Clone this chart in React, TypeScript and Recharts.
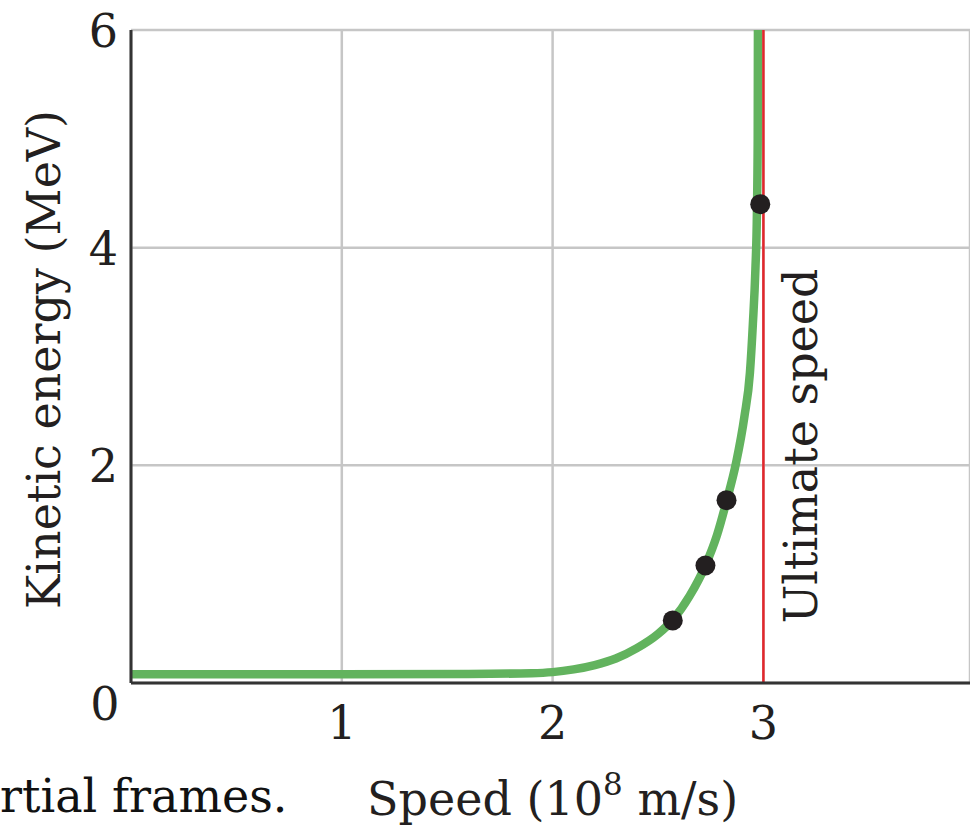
import React from 'react';
import {
  CartesianGrid,
  ComposedChart,
  Label,
  Line,
  ReferenceLine,
  Scatter,
  XAxis,
  YAxis,
} from 'recharts';

// speed in 10^8 m/s, kinetic energy in MeV
const curveSpeed = [
  0, 1.0, 1.6, 1.9, 2.0, 2.1, 2.2, 2.3, 2.4, 2.5, 2.57, 2.65, 2.725,
  2.78, 2.825, 2.87, 2.91, 2.936, 2.95, 2.962, 2.969, 2.973, 2.974,
];
const curveEnergy = [
  0.08, 0.08, 0.083, 0.09, 0.1, 0.125, 0.165, 0.225, 0.32, 0.45, 0.58, 0.8,
  1.08, 1.36, 1.67, 2.02, 2.45, 2.85, 3.3, 3.8, 4.3, 5.0, 6.0,
];

const measuredSpeed = [2.57, 2.725, 2.825, 2.985];
const measuredEnergy = [0.575, 1.08, 1.68, 4.4];

const xTicks = [0, 1, 2, 3];
const yTicks = [0, 2, 4, 6];
const ultimateSpeed = 3;

const curve = curveSpeed.map((v, i) => ({ v, ke: curveEnergy[i] }));
const measured = measuredSpeed.map((v, i) => ({ v, ke: measuredEnergy[i] }));

const FONT = '"DejaVu Serif", serif';
const INK = '#231f20';
const FS = 46;

function XTick(props: any) {
  const { x, payload } = props;
  if (payload.value === 0) return <g />;
  return (
    <text x={x} y={739} textAnchor="middle" fontFamily={FONT} fontSize={FS} fill={INK}>
      {payload.value}
    </text>
  );
}

function YTick(props: any) {
  const { y, payload } = props;
  if (payload.value === 0) {
    return (
      <text x={105} y={720} textAnchor="middle" fontFamily={FONT} fontSize={FS} fill={INK}>
        0
      </text>
    );
  }
  return (
    <text x={118} y={y + 17} textAnchor="end" fontFamily={FONT} fontSize={FS} fill={INK}>
      {payload.value}
    </text>
  );
}

function Dot(props: any) {
  return <circle cx={props.cx} cy={props.cy} r={10} fill={INK} />;
}

export default function App(): React.JSX.Element {
  return (
    <div
      style={{
        position: 'absolute',
        left: 0,
        top: 0,
        width: 970,
        height: 825,
        background: '#fff',
        overflow: 'hidden',
      }}
    >
      <ComposedChart width={970} height={825} margin={{ top: 30, right: 0, bottom: 0, left: 0 }}>
        <CartesianGrid stroke="#c6c6c6" strokeWidth={2.5} />
        <XAxis
          type="number"
          dataKey="v"
          domain={[0, 3.98]}
          ticks={xTicks}
          interval={0}
          allowDataOverflow
          height={142}
          tickLine={false}
          axisLine={{ stroke: '#333', strokeWidth: 3 }}
          tick={XTick}
        >
          <Label
            content={(p: any) => {
              const vb = p.viewBox;
              return (
                <text x={vb.x + vb.width * (2 / 3.98)} y={815} textAnchor="middle" fontFamily={FONT} fontSize={FS} fill={INK}>
                  <tspan>Speed (10</tspan>
                  <tspan dy={-20} fontSize={31}>8</tspan>
                  <tspan dy={20}> m/s)</tspan>
                </text>
              );
            }}
          />
        </XAxis>
        <YAxis
          type="number"
          domain={[0, 6]}
          ticks={yTicks}
          interval={0}
          width={131}
          tickLine={false}
          axisLine={{ stroke: '#333', strokeWidth: 3 }}
          tick={YTick}
        >
          <Label
            content={(p: any) => {
              const vb = p.viewBox;
              const cy = vb.y + vb.height / 2 + 3;
              return (
                <text
                  x={60}
                  y={cy}
                  transform={`rotate(-90, 60, ${cy})`}
                  textAnchor="middle"
                  fontFamily={FONT}
                  fontSize={FS}
                  fill={INK}
                >
                  Kinetic energy (MeV)
                </text>
              );
            }}
          />
        </YAxis>
        <Line
          data={curve}
          dataKey="ke"
          type="monotone"
          stroke="#62b35e"
          strokeWidth={8.5}
          dot={false}
          activeDot={false}
          isAnimationActive={false}
        />
        <ReferenceLine x={ultimateSpeed} stroke="#e3262b" strokeWidth={2.5}>
          <Label
            content={(p: any) => {
              const vb = p.viewBox;
              const bx = vb.x + 54;
              const cy = 446;
              return (
                <text
                  x={bx}
                  y={cy}
                  transform={`rotate(-90, ${bx}, ${cy})`}
                  textAnchor="middle"
                  fontFamily={FONT}
                  fontSize={FS}
                  fill={INK}
                >
                  Ultimate speed
                </text>
              );
            }}
          />
        </ReferenceLine>
        <Scatter data={measured} dataKey="ke" shape={Dot} isAnimationActive={false} />
      </ComposedChart>
      <svg
        width={970}
        height={825}
        style={{ position: 'absolute', left: 0, top: 0, pointerEvents: 'none' }}
      >
        <text x={0} y={812} fontFamily={FONT} fontSize={FS} fill="#111">
          rtial frames.
        </text>
      </svg>
    </div>
  );
}
